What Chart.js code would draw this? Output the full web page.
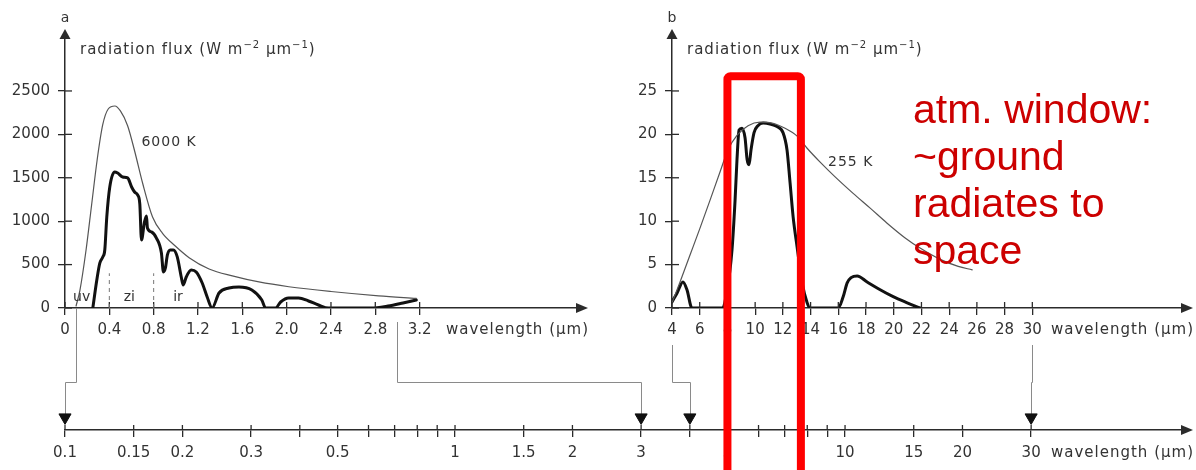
<!DOCTYPE html>
<html><head><meta charset="utf-8">
<script src="https://cdn.jsdelivr.net/npm/chart.js@4"></script>
<style>
html,body{margin:0;padding:0;background:#fff;}
#wrap{position:relative;width:1196px;height:470px;overflow:hidden;background:#fff;}
canvas{position:absolute;}
#cA{left:0;top:0;} #cB{left:600px;top:0;} #cC{left:0;top:0;pointer-events:none;}
</style></head><body>
<div id="wrap">
<canvas id="cA" width="600" height="345"></canvas>
<canvas id="cB" width="596" height="345"></canvas>
<canvas id="cC" width="1196" height="470"></canvas>
</div>
<script>
// ---------------- data ----------------
// panel a: wavelength (µm) / radiation flux (W m-2 µm-1)
const lamA_bb  = [0.10,0.135,0.19,0.24,0.29,0.34,0.39,0.45,0.50,0.565,0.63,0.70,0.79,0.88,0.99,1.12,1.30,1.51,1.75,2.02,2.40,2.83,3.17];
const fluxA_bb = [23,207,668,1187,1705,2108,2292,2327,2270,2100,1800,1440,1048,860,720,580,450,370,300,245,190,140,110];
const lamA_sfc  = [0.251,0.287,0.314,0.341,0.359,0.377,0.404,0.448,0.475,0.52,0.565,0.601,0.628,0.655,0.675,0.69,0.717,0.735,0.744,0.78,0.825,0.87,0.888,0.906,0.924,0.95,0.978,1.013,1.049,1.067,1.094,1.139,1.184,1.238,1.283,1.327,1.39,1.48,1.57,1.686,1.776,1.81,1.90,1.946,2.018,2.108,2.197,2.287,2.377,2.76,2.915,3.05,3.17];
const fluxA_sfc = [0,323,518,588,668,1048,1394,1567,1555,1509,1498,1394,1336,1302,1200,783,990,1060,922,876,806,634,415,461,611,668,668,588,357,265,357,438,415,288,127,0,173,230,242,207,92,0,0,69,115,115,81,35,0,0,23,58,92];
const ticksA_x = [0,0.4,0.8,1.2,1.6,2.0,2.4,2.8,3.2];
const ticksA_y = [0,500,1000,1500,2000,2500];
const bandLam   = [0.4,0.8];          // dashed band limits
const bandNames = ['uv','zi','ir'];
const bandAt    = [0.15,0.58,1.02];   // label wavelengths
const labelA = {text:'6000 K', lam:0.69, flux:1912};

// panel b
const lamB_bb  = [4.0,4.58,5.3,6.02,6.74,7.47,8.04,8.7,9.49,10.35,11.22,12.16,13.03,13.75,14.69,15.77,17.07,18.3,19.5,20.8,21.9,23.35,24.65,25.66];
const fluxB_bb = [0.6,3.0,6.1,9.2,12.4,15.7,18.2,19.9,21.0,21.4,21.3,20.7,19.8,18.4,16.8,15.1,13.2,11.5,9.8,8.1,6.9,5.6,4.8,4.4];
const lamB_sfc  = [4.0,4.36,4.79,5.08,5.44,7.61,7.97,8.33,8.55,8.69,8.84,9.05,9.27,9.42,9.56,9.7,9.92,10.2,10.57,11.07,11.58,12.01,12.3,12.52,12.74,13.03,13.39,13.75,13.96,15.99,16.35,16.64,16.92,17.36,18.08,19.02,19.96,20.97,21.9];
const fluxB_sfc = [0.7,1.7,3.0,2.1,0,0,2.0,6.7,12.4,17.1,20.5,20.7,19.6,17.1,16.5,18.2,20.2,21.0,21.3,21.2,20.9,20.2,18.2,14.4,10.5,7.0,2.9,0.6,0,0,1.3,2.9,3.5,3.7,3.0,2.1,1.3,0.6,0];
const ticksB_x = [4,6,8,10,12,14,16,18,20,22,24,26,28,30];
const ticksB_y = [0,5,10,15,20,25];
const labelB = {text:'255 K', lam:15.26, flux:16.8};

// bottom logarithmic wavelength axis
const ticksLog = [0.1,0.15,0.2,0.3,0.4,0.5,0.6,0.7,0.8,0.9,1,1.5,2,3,4,5,6,7,8,9,10,15,20,30];
const ticksLogLabelled = [0.1,0.15,0.2,0.3,0.5,1,1.5,2,3,5,10,15,20,30];
const markLam = [0.1,3,4,30];
// links: panel, wavelength on panel axis, wavelength on log axis
const linkPanel = ['a','a','b','b'];
const linkFrom  = [0.1,3.0,4,30];
const linkTo    = [0.1,3,4,30];

// atmospheric window annotation
const windowLam = [8.0,13.3];
const windowTop = 26.7;
const noteLines = ['atm. window:','~ground','radiates to','space'];

// ---------------- styles ----------------
const FONT = '"DejaVu Sans", sans-serif';
const TXT = '#333';
const AX = '#2b2b2b';
const pts = (xs, ys) => xs.map((x, i) => ({x, y: ys[i]}));
function ls(ctx, v){ if ('letterSpacing' in ctx) ctx.letterSpacing = v; }

function scaleCfg(type, min, max, ticks, fmt, fitKey, fitVal, pad){
  return {
    type, min, max,
    afterBuildTicks: s => { s.ticks = ticks.map(v => ({value: v})); },
    afterFit: s => { s[fitKey] = fitVal; },
    ticks: {callback: fmt, color: TXT, font: {family: FONT, size: 15}, padding: pad,
            autoSkip: false, maxRotation: 0, minRotation: 0},
    grid: {drawOnChartArea: false, drawTicks: true, tickLength: 7, color: AX, lineWidth: 1.3},
    border: {display: true, color: AX, width: 1.5}
  };
}

function drawFluxTitle(ctx, x, y){
  ctx.save(); ctx.fillStyle = TXT; ctx.textAlign = 'left'; ctx.textBaseline = 'alphabetic'; ls(ctx,'1px');
  const parts = [['radiation flux (W m',0],['\u22122',1],[' \u00b5m',0],['\u22121',1],[')',0]];
  for (const [t, sup] of parts){
    ctx.font = (sup ? '10px ' : '15px ') + FONT;
    ctx.fillText(t, x, y - (sup ? 6 : 0));
    x += ctx.measureText(t).width;
  }
  ctx.restore();
}

function decorPlugin(letter, extra){
  return {
    id: 'decor' + letter,
    afterDraw(chart){
      const ctx = chart.ctx, xs = chart.scales.x, ys = chart.scales.y, ca = chart.chartArea;
      ctx.save();
      ctx.strokeStyle = AX; ctx.lineWidth = 1.3;
      xs.ticks.forEach(t => { const p = xs.getPixelForValue(t.value);
        ctx.beginPath(); ctx.moveTo(p, ca.bottom); ctx.lineTo(p, ca.bottom - 6); ctx.stroke(); });
      ys.ticks.forEach(t => { const p = ys.getPixelForValue(t.value);
        ctx.beginPath(); ctx.moveTo(ca.left, p); ctx.lineTo(ca.left + 7, p); ctx.stroke(); });
      ctx.fillStyle = AX;
      ctx.beginPath(); ctx.moveTo(ca.left, ca.top - 9); ctx.lineTo(ca.left - 5.5, ca.top + 1); ctx.lineTo(ca.left + 5.5, ca.top + 1); ctx.closePath(); ctx.fill();
      ctx.beginPath(); ctx.moveTo(ca.right + 11, ca.bottom); ctx.lineTo(ca.right - 1, ca.bottom - 5); ctx.lineTo(ca.right - 1, ca.bottom + 5); ctx.closePath(); ctx.fill();
      // panel letter
      ctx.fillStyle = TXT; ctx.font = '14px ' + FONT; ctx.textAlign = 'center'; ctx.textBaseline = 'middle';
      ctx.fillText(letter, ca.left, 18);
      // axis titles
      drawFluxTitle(ctx, ca.left + 15, 54);
      ctx.save(); ls(ctx,'1px'); ctx.font = '15px ' + FONT; ctx.textAlign = 'right'; ctx.textBaseline = 'middle'; ctx.fillStyle = TXT;
      ctx.fillText('wavelength (\u00b5m)', ca.right + 12, ca.bottom + 22);
      ctx.restore();
      extra(chart, ctx, xs, ys);
      ctx.restore();
    }
  };
}

function baseOptions(padRight, xCfg, yCfg){
  return {
    animation: false, responsive: false, maintainAspectRatio: false,
    layout: {padding: {top: 38, right: padRight, left: 0, bottom: 0}},
    plugins: {legend: {display: false}, tooltip: {enabled: false}},
    scales: {x: xCfg, y: yCfg}
  };
}

function lineDs(data, color, width){
  return {data, borderColor: color, borderWidth: width, pointRadius: 0, fill: false,
          cubicInterpolationMode: 'monotone', borderJoinStyle: 'round', borderCapStyle: 'round'};
}

// ---------------- panel a ----------------
const chartA = new Chart(document.getElementById('cA'), {
  type: 'line',
  data: {datasets: [lineDs(pts(lamA_bb, fluxA_bb), '#555', 1.2), lineDs(pts(lamA_sfc, fluxA_sfc), '#111', 3)]},
  options: baseOptions(23,
    scaleCfg('linear', 0, 4.62, ticksA_x, v => v === 0 ? '0' : Number(v).toFixed(1), 'height', 37, 6),
    scaleCfg('linear', 0, 3110, ticksA_y, v => String(v), 'width', 65, 8)),
  plugins: [decorPlugin('a', (chart, ctx, xs, ys) => {
    ctx.strokeStyle = '#777'; ctx.lineWidth = 1; ctx.setLineDash([4, 4]);
    bandLam.forEach(l => { const p = xs.getPixelForValue(l);
      ctx.beginPath(); ctx.moveTo(p, ys.getPixelForValue(0)); ctx.lineTo(p, ys.getPixelForValue(400)); ctx.stroke(); });
    ctx.setLineDash([]);
    ctx.fillStyle = TXT; ctx.font = '14px ' + FONT; ctx.textAlign = 'center'; ctx.textBaseline = 'middle';
    bandNames.forEach((n, i) => ctx.fillText(n, xs.getPixelForValue(bandAt[i]), ys.getPixelForValue(127)));
    ctx.save(); ls(ctx,'1px'); ctx.font = '14px ' + FONT; ctx.textAlign = 'left';
    ctx.fillText(labelA.text, xs.getPixelForValue(labelA.lam), ys.getPixelForValue(labelA.flux));
    ctx.restore();
  })]
});

// ---------------- panel b ----------------
const chartB = new Chart(document.getElementById('cB'), {
  type: 'line',
  data: {datasets: [lineDs(pts(lamB_bb, fluxB_bb), '#555', 1.2), lineDs(pts(lamB_sfc, fluxB_sfc), '#111', 3)]},
  options: baseOptions(14,
    scaleCfg('linear', 4, 40.8, ticksB_x, v => String(v), 'height', 37, 6),
    scaleCfg('linear', 0, 31.1, ticksB_y, v => String(v), 'width', 72, 8)),
  plugins: [decorPlugin('b', (chart, ctx, xs, ys) => {
    ctx.save(); ls(ctx,'1px'); ctx.fillStyle = TXT; ctx.font = '14px ' + FONT; ctx.textAlign = 'left'; ctx.textBaseline = 'middle';
    ctx.fillText(labelB.text, xs.getPixelForValue(labelB.lam), ys.getPixelForValue(labelB.flux));
    ctx.restore();
  })]
});

// ---------------- bottom log axis + overlay ----------------
const linkGap = [0, 14, 37, 37];
const overlay = {
  id: 'overlay',
  beforeDatasetsDraw(chart){
    const ctx = chart.ctx, xs = chart.scales.x, ca = chart.chartArea;
    ctx.save();
    // inner stubs + arrow
    ctx.strokeStyle = AX; ctx.lineWidth = 1.3;
    xs.ticks.forEach(t => { const p = xs.getPixelForValue(t.value);
      ctx.beginPath(); ctx.moveTo(p, ca.bottom); ctx.lineTo(p, ca.bottom - 5); ctx.stroke(); });
    ctx.fillStyle = AX;
    ctx.beginPath(); ctx.moveTo(ca.right + 11, ca.bottom); ctx.lineTo(ca.right - 1, ca.bottom - 5); ctx.lineTo(ca.right - 1, ca.bottom + 5); ctx.closePath(); ctx.fill();
    ctx.save(); ls(ctx,'1px'); ctx.font = '15px ' + FONT; ctx.textAlign = 'right'; ctx.textBaseline = 'middle'; ctx.fillStyle = TXT;
    ctx.fillText('wavelength (\u00b5m)', ca.right + 12, ca.bottom + 23);
    ctx.restore();
    // connector lines
    ctx.strokeStyle = '#8a8a8a'; ctx.lineWidth = 1;
    const elbow = ca.bottom - 48;
    linkFrom.forEach((lam, i) => {
      const src = linkPanel[i] === 'a' ? chartA : chartB;
      const off = linkPanel[i] === 'a' ? 0 : 600;
      const x0 = off + src.scales.x.getPixelForValue(lam);
      const y0 = src.chartArea.bottom + linkGap[i];
      const x1 = xs.getPixelForValue(linkTo[i]);
      ctx.beginPath(); ctx.moveTo(Math.round(x0) + 0.5, y0); ctx.lineTo(Math.round(x0) + 0.5, elbow + 0.5);
      ctx.lineTo(Math.round(x1) + 0.5, elbow + 0.5); ctx.lineTo(Math.round(x1) + 0.5, ca.bottom - 12); ctx.stroke();
    });
    ctx.restore();
  },
  afterDraw(chart){
    const ctx = chart.ctx;
    ctx.save();
    const xsB = chartB.scales.x, ysB = chartB.scales.y;
    const xL = 600 + xsB.getPixelForValue(windowLam[0]);
    const xR = 600 + xsB.getPixelForValue(windowLam[1]);
    const yT = ysB.getPixelForValue(windowTop);
    ctx.strokeStyle = '#ff0000'; ctx.lineWidth = 8; ctx.lineJoin = 'round';
    ctx.beginPath();
    if (ctx.roundRect) ctx.roundRect(xL, yT, xR - xL, 500, 3); else ctx.rect(xL, yT, xR - xL, 500);
    ctx.stroke();
    ctx.fillStyle = '#cc0000'; ctx.font = '41px "Liberation Sans", Arial, sans-serif';
    ctx.textAlign = 'left'; ctx.textBaseline = 'alphabetic';
    noteLines.forEach((t, i) => ctx.fillText(t, 913, 123 + i * 47));
    ctx.restore();
  }
};

const chartC = new Chart(document.getElementById('cC'), {
  type: 'scatter',
  data: {datasets: [{data: markLam.map(x => ({x, y: 0.42})), pointStyle: 'triangle', rotation: 180, clip: false,
    pointRadius: 7, backgroundColor: '#111', borderColor: '#111', borderWidth: 1, showLine: false}]},
  options: {
    animation: false, responsive: false, maintainAspectRatio: false,
    layout: {padding: {top: 400, right: 14, left: 65, bottom: 0}},
    plugins: {legend: {display: false}, tooltip: {enabled: false}},
    scales: {
      x: scaleCfg('logarithmic', 0.1, 73.1, ticksLog, v => ticksLogLabelled.includes(v) ? String(v) : '', 'height', 40, 7),
      y: {type: 'linear', min: 0, max: 1, display: false}
    }
  },
  plugins: [overlay]
});
</script>
</body></html>
